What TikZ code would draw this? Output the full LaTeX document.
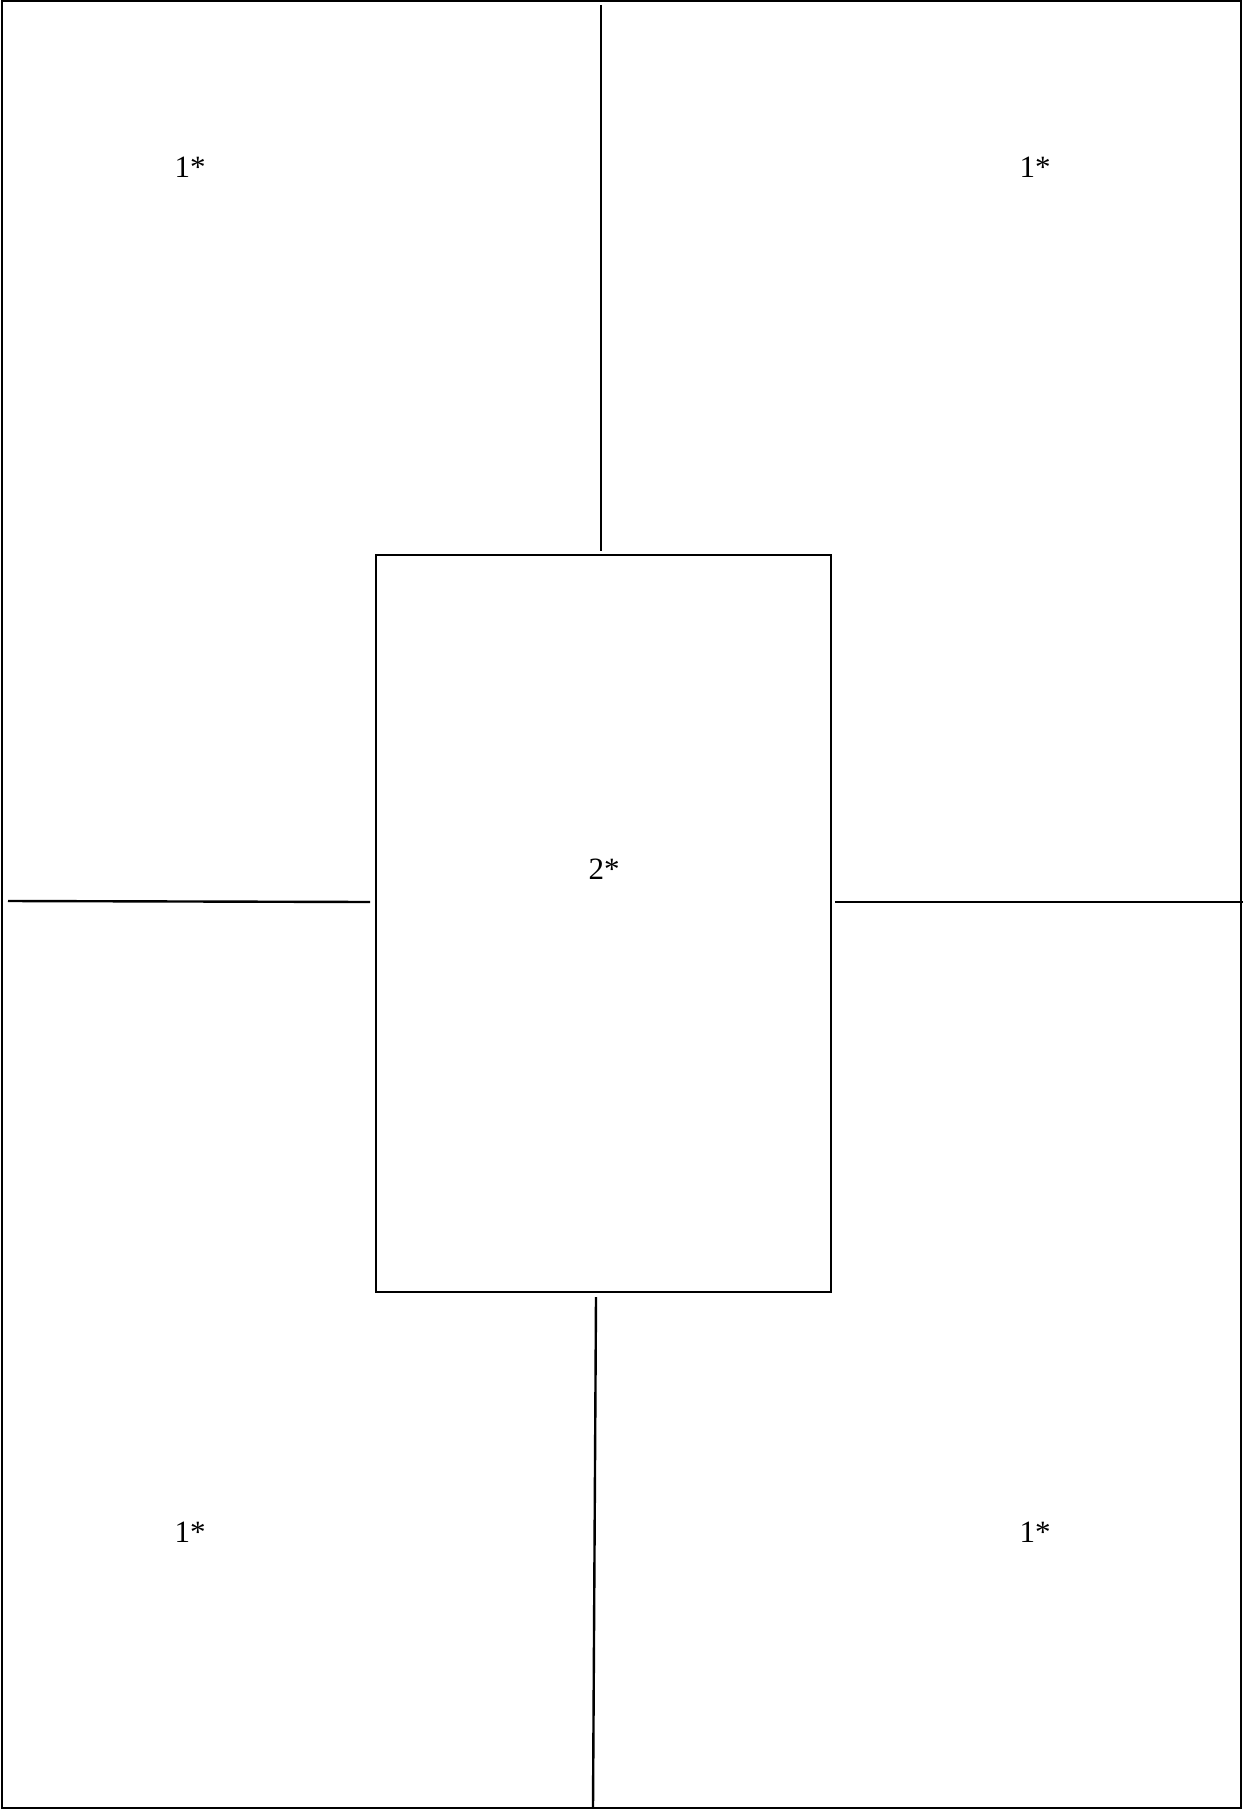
\documentclass[tikz,border=0pt]{standalone}
\usepackage{fontspec}
\setmainfont{Liberation Serif}

\begin{document}
\begin{tikzpicture}[x=0.5pt, y=-0.5pt, every node/.style={font=\fontsize{15.5}{18}\selectfont}, wall/.style={line width=1.2pt}, room/.style={draw, line width=1.2pt, inner sep=0pt, minimum width=227.5pt, minimum height=368.5pt}]
	\useasboundingbox (0,0) rectangle (1244,1809);
	\draw[wall] (2,1) rectangle (1241,1808);
	\node[room] (mid) at (603.75,923.75) {};
	\coordinate (top) at (601,5);
	\coordinate (bot) at (593,1808);
	\coordinate (lft) at (8,901);
	\coordinate (rgt) at (1243,902);
	\draw[wall] (top) -- (top |- mid.north) [shorten >=1.5pt];
	\draw[wall] (596,1297) -- (bot);
	\draw[wall] (lft) -- (370,902);
	\draw[wall] (835,902) -- (rgt);
	\node (tl) at (190,167) {1*};
	\node (tr) at (1035,167) {1*};
	\node (bl) at (190,1532) {1*};
	\node (br) at (1035,1532) {1*};
	\node (c) at (604,869) {2*};
\end{tikzpicture}
\end{document}
